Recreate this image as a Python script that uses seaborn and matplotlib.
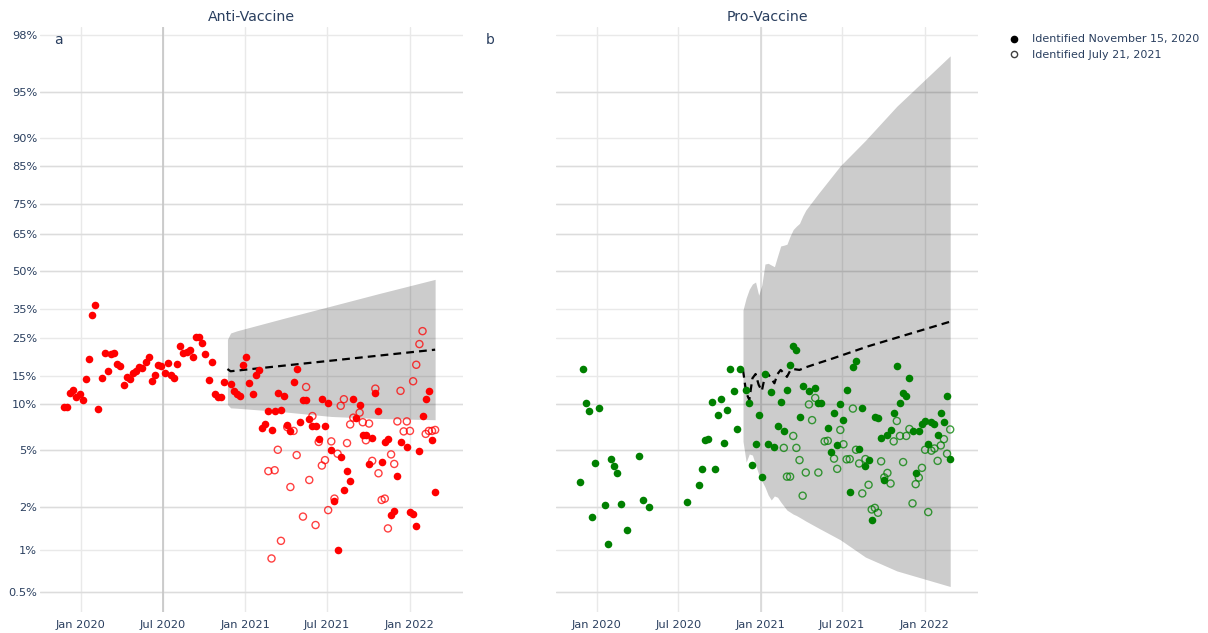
import numpy as np
import pandas as pd
import matplotlib
matplotlib.use("Agg")
import matplotlib.pyplot as plt
from matplotlib.lines import Line2D
from matplotlib.ticker import FixedLocator, NullLocator, FixedFormatter
import seaborn as sns

# weekly sample dates (Sundays), Nov 24 2019 .. Feb 27 2022
weeks = pd.date_range("2019-11-24", "2022-02-27", freq="7D")

# share of pages (%), None = no point that week
anti_nov = [
    9.6, 9.65, 11.8, 12.3, 11.2, 11.6, 10.7, 14.4, 19.1, 32.7,
    36.3, 9.4, 14.7, 20.7, 16.2, 20.2, 20.7, 17.7, 17.3, 13.2,
    14.8, 14.4, 15.7, 16.2, 17.1, 16.9, 18.3, 19.6, 14.1, 15.2,
    17.6, 17.4, 15.8, 18.1, 15.2, 14.7, 17.7, 22.6, 20.5, 20.9,
    21.4, 19.6, 25.3, 25.3, 23.4, 20.2, 14.2, 18.2, 11.7, 11.2,
    11.1, 13.9, None, 13.4, 12.2, 11.7, 11.3, 17.6, 19.6, 13.6,
    11.7, 15.2, 16.4, 7.0, 7.5, 9.0, 6.8, 9.05, 11.9, 9.2,
    11.3, 7.35, 6.7, 13.9, 16.7, 7.7, 10.7, 10.7, 8.0, 7.25,
    7.25, 5.9, 10.9, 7.2, 10.2, 4.95, 2.22, 1.0, 4.45, 2.63,
    3.6, 3.03, 10.8, 8.1, 9.9, 6.3, 6.3, 4.0, 6.0, 11.9,
    9.0, 4.15, 5.65, 5.95, 1.77, 1.89, 3.3, 5.65, None, 5.2,
    1.85, 1.8, 1.48, 4.9, 8.4, 10.8, 12.2, 5.85, 2.56,
]
anti_jul = [None] * 65 + [
    3.57, 0.87, 3.62, 5.0, 1.16,
    None, 7.1, 2.77, 6.7, 4.6, None, 1.72, 12.9, 3.1, 8.4,
    1.5, 5.65, 3.9, 4.25, 1.91, 5.7, 2.3, 4.7, 9.8, 10.8,
    5.55, 7.4, 8.2, None, 8.85, 7.65, 5.8, 7.5, 4.2, 12.6,
    3.45, 2.25, 2.3, 1.42, 4.65, 4.0, 7.75, 12.2, 6.65, 7.75,
    6.7, 14.0, 17.6, 23.1, 27.1, 6.4, 6.7, 6.7, 6.8,
]
pro_nov = [
    3.0, 16.7, 10.2, 9.05, 1.72, 4.03, 9.45, None, 2.07, 1.1,
    4.3, 3.87, 3.47, 2.12, None, 1.38, None, None, None, 4.55,
    2.26, None, 2.0, None, None, None, None, None, None, None,
    None, None, None, None, 2.17, None, None, None, 2.85, 3.7,
    5.8, 5.95, 10.4, 3.7, 8.6, 10.8, 5.6, 9.2, 16.7, 12.2,
    6.85, 16.7, None, 12.4, 10.2, 3.93, 5.5, 8.6, 3.27, 15.4,
    5.5, 12.0, 5.25, 7.25, 10.4, 6.7, 12.4, 17.6, 22.5, 21.3,
    8.3, 13.0, None, 12.1, None, 12.7, 10.2, 10.2, None, 7.0,
    4.85, 8.8, 5.4, 10.0, 7.9, 12.4, 2.56, 17.0, 18.6, 5.1,
    9.45, 3.9, 4.25, 1.63, 8.3, 8.15, 6.0, 3.1, 6.25, 6.8,
    8.8, 17.2, 10.2, 11.9, 11.35, 14.7, 6.7, 3.45, 6.7, 7.45,
    7.8, 5.5, 7.65, 7.5, 6.25, 8.8, 7.65, 11.4, 4.3,
]
pro_jul = [None] * 65 + [
    5.15, 3.27, 3.27, 6.2, 5.15,
    4.25, 2.41, 3.49, 10.0, 7.9, 11.0, 3.49, None, 5.7, 5.75,
    None, 4.35, 3.7, 6.8, 5.45, 4.3, 4.32, 9.4, 5.0, 4.03,
    2.5, 4.32, 2.87, 1.93, 1.98, 1.83, 4.17, 3.23, 3.47, 2.93,
    5.7, 7.8, 6.2, 4.12, 6.2, 6.9, 2.13, 2.9, 3.22, 3.76,
    5.0, 1.85, 4.93, 5.1, 4.2, 5.35, 5.9, 4.7, 6.85,
]

# projection bands and central projection (%)
anti_band_dates = ["2020-11-22", "2020-11-29", "2020-12-13", "2021-03-28",
                   "2021-07-11", "2021-10-24", "2022-02-27"]
anti_band_lo = [10.0, 9.5, 9.45, 8.95, 8.35, 8.1, 7.95]
anti_band_hi = [24.5, 26.5, 27.2, 31.5, 36.0, 40.8, 46.6]
anti_line_dates = ["2020-11-22", "2020-11-29", "2022-02-27"]
anti_line = [16.6, 16.1, 21.5]

pro_band_dates = ["2020-11-22", "2020-11-29", "2020-12-06", "2020-12-13", "2020-12-20",
                  "2020-12-27", "2021-01-03", "2021-01-10", "2021-01-17", "2021-01-24",
                  "2021-01-31", "2021-02-07", "2021-02-14", "2021-02-21", "2021-02-28",
                  "2021-03-07", "2021-03-14", "2021-03-21", "2021-03-28", "2021-04-04",
                  "2021-04-11", "2021-05-09", "2021-06-27", "2021-08-22", "2021-10-31",
                  "2022-02-27"]
pro_band_lo = [5.7, 4.12, 4.68, 4.6, 3.93, 3.4, 3.05, 2.77, 2.44, 2.25,
               2.4, 2.35, 2.18, 2.04, 1.91, 1.85, 1.79, 1.75, 1.7, 1.65,
               1.6, 1.43, 1.18, 0.89, 0.71, 0.55]
pro_band_hi = [34.5, 39.1, 42.6, 44.7, 45.5, 40.2, 44.3, 52.9, 53.2, 52.5,
               51.8, 56.1, 60.2, 60.5, 60.9, 64.0, 66.5, 67.7, 68.7, 71.2,
               73.2, 78.2, 85.0, 89.6, 93.8, 97.2]
pro_line_dates = ["2020-11-22", "2020-11-29", "2020-12-06", "2020-12-13", "2020-12-20",
                  "2020-12-27", "2021-01-03", "2021-01-10", "2021-01-17", "2021-01-24",
                  "2021-01-31", "2021-02-07", "2021-02-14", "2021-02-21", "2021-02-28",
                  "2021-03-07", "2021-03-14", "2021-03-21", "2021-03-28", "2021-04-04",
                  "2021-04-11", "2021-05-09", "2021-06-06", "2021-08-29", "2022-02-27"]
pro_line = [16.4, 11.9, 10.7, 14.6, 15.5, 13.3, 12.2, 15.1, 15.5, 14.5,
            13.6, 15.5, 16.4, 15.7, 14.9, 16.2, 16.6, 16.5, 16.4, 16.7,
            17.0, 18.0, 19.0, 22.5, 30.3]

ytick_vals = [0.5, 1, 2, 5, 10, 15, 25, 35, 50, 65, 75, 85, 90, 95, 98]
ytick_labels = ["0.5%", "1%", "2%", "5%", "10%", "15%", "25%", "35%", "50%",
                "65%", "75%", "85%", "90%", "95%", "98%"]
strong_y = [0.5, 2, 5, 10, 50, 65, 75, 85, 95]
xtick_dates = ["2020-01-01", "2020-07-01", "2021-01-01", "2021-07-01", "2022-01-01"]
xtick_labels = ["Jan 2020", "Jul 2020", "Jan 2021", "Jul 2021", "Jan 2022"]

TXT = "#2a3f5f"
sns.set_style("whitegrid")
plt.rcParams["font.family"] = ["DejaVu Sans"]

fig = plt.figure(figsize=(12.08, 6.33), dpi=100)
W, H = 1208, 633
ax_a = fig.add_axes([40 / W, 21 / H, 423 / W, 585 / H])
ax_b = fig.add_axes([556 / W, 21 / H, 422 / W, 585 / H])


def pct(vals):
    return np.array([np.nan if v is None else v for v in vals], dtype=float) / 100


def draw_panel(ax, nov, jul, color, bd, blo, bhi, ld, lv, strong_x, strong_c):
    ax.set_yscale("logit")
    ax.fill_between(pd.to_datetime(bd), pct(blo), pct(bhi),
                    color="black", alpha=0.2, lw=0, zorder=1)
    sns.lineplot(x=pd.to_datetime(ld), y=pct(lv), ax=ax, color="black",
                 lw=1.6, linestyle=(0, (3.5, 2.3)), estimator=None, zorder=2)
    df = pd.DataFrame({"week": weeks, "nov": pct(nov), "jul": pct(jul)})
    sns.scatterplot(data=df, x="week", y="jul", ax=ax, color=color, s=26,
                    edgecolor=color, linewidth=1.0, alpha=0.75, zorder=3)
    ax.collections[-1].set_facecolor("none")
    sns.scatterplot(data=df, x="week", y="nov", ax=ax, color=color, s=30,
                    linewidth=0, zorder=4)

    ax.set_ylim(0.00362, 0.9824)
    ax.set_xlim(pd.Timestamp("2019-10-02"), pd.Timestamp("2022-04-30"))
    ax.yaxis.set_major_locator(FixedLocator(pct(ytick_vals)))
    ax.yaxis.set_minor_locator(NullLocator())
    ax.yaxis.set_major_formatter(FixedFormatter(ytick_labels))
    ax.set_xticks(pd.to_datetime(xtick_dates))
    ax.set_xticklabels(xtick_labels)
    ax.set_xlabel("")
    ax.set_ylabel("")
    ax.grid(True, color="#e9e9e9", lw=1.0)
    ax.set_axisbelow(True)
    for v in pct(strong_y):
        ax.axhline(v, color="#dcdcdc", lw=1.0, zorder=0.6)
    ax.axvline(pd.Timestamp(strong_x), color=strong_c, lw=1.2, zorder=0.6)
    for sp in ax.spines.values():
        sp.set_visible(False)
    ax.tick_params(length=0, labelsize=8.2, colors=TXT)
    ax.tick_params(axis="x", pad=6)
    ax.tick_params(axis="y", pad=2)


draw_panel(ax_a, anti_nov, anti_jul, "red", anti_band_dates, anti_band_lo,
           anti_band_hi, anti_line_dates, anti_line, "2020-07-01", "#c6c6c6")
draw_panel(ax_b, pro_nov, pro_jul, "green", pro_band_dates, pro_band_lo,
           pro_band_hi, pro_line_dates, pro_line, "2021-01-01", "#d8d8d8")
ax_b.tick_params(labelleft=False)

fig.text(251.5 / W, 1 - 17 / H, "Anti-Vaccine", ha="center", va="center",
         fontsize=10.2, color=TXT)
fig.text(767 / W, 1 - 17 / H, "Pro-Vaccine", ha="center", va="center",
         fontsize=10.2, color=TXT)
fig.text(58 / W, 1 - 40 / H, "a", ha="center", va="center", fontsize=10, color=TXT)
fig.text(490 / W, 1 - 40 / H, "b", ha="center", va="center", fontsize=10, color=TXT)

handles = [
    Line2D([], [], ls="", marker="o", color="black", markersize=4.5),
    Line2D([], [], ls="", marker="o", markerfacecolor="none",
           markeredgecolor="black", markersize=4.5, alpha=0.75),
]
fig.legend(handles, ["Identified November 15, 2020", "Identified July 21, 2021"],
           loc="upper left", bbox_to_anchor=(1003 / W, 1 - 30 / H), frameon=False,
           fontsize=8.0, labelcolor=TXT, handletextpad=1.0, labelspacing=0.5,
           handlelength=1.2, borderaxespad=0)

fig.savefig("out.png", dpi=100)
